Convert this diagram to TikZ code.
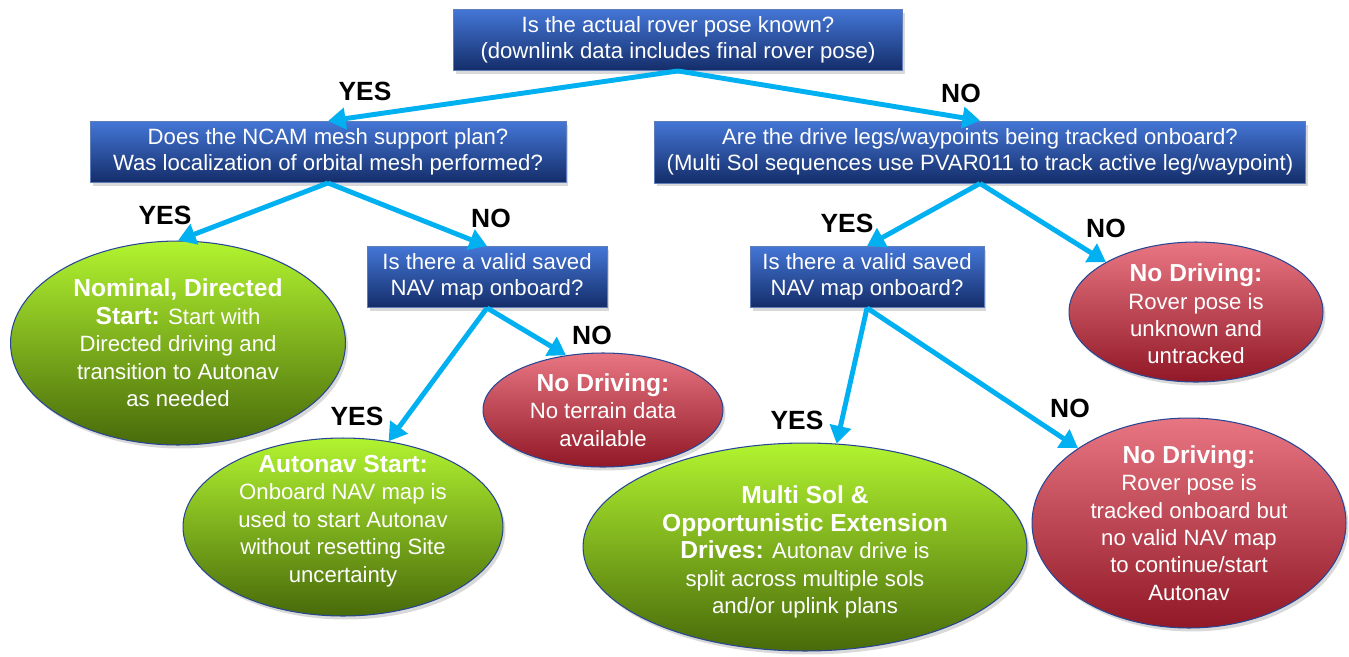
\documentclass[tikz,border=0pt]{standalone}
\usepackage{fontspec}
\setmainfont{Liberation Sans}
\usetikzlibrary{shapes.geometric,arrows.meta,shadows}

\definecolor{boxtop}{RGB}{68,118,214}
\definecolor{boxbot}{RGB}{20,45,105}
\definecolor{boxedge}{RGB}{95,125,185}
\definecolor{grntop}{RGB}{178,244,48}
\definecolor{grnmid}{RGB}{128,188,26}
\definecolor{grnbot}{RGB}{72,106,10}
\definecolor{redtop}{RGB}{232,118,130}
\definecolor{redmid}{RGB}{214,36,56}
\definecolor{redbot}{RGB}{145,24,38}
\definecolor{rimblue}{RGB}{40,70,150}
\definecolor{arrowblue}{RGB}{0,176,240}

\newcommand{\hdtxt}[1]{{\fontsize{14}{15.6}\selectfont\bfseries #1}}

\tikzset{
  question/.style={rectangle, draw=boxedge, line width=0.5pt,
    top color=boxtop, bottom color=boxbot, text=white, align=center,
    font=\fontsize{12.6}{15}\selectfont, minimum height=1.22cm, inner sep=0pt,
    drop shadow={opacity=0.3, shadow xshift=0.5mm, shadow yshift=-0.7mm}},
  outcome/.style={ellipse, draw=rimblue, line width=0.6pt, inner sep=0pt,
    drop shadow={opacity=0.3, shadow xshift=0.5mm, shadow yshift=-0.7mm}},
  goend/.style={top color=grntop, middle color=grnmid, bottom color=grnbot},
  haltend/.style={top color=redtop, middle color=redmid, bottom color=redbot},
  outtext/.style={text=white, align=center, inner sep=0pt,
    font=\fontsize{12.6}{15.6}\selectfont},
  ans/.style={font=\fontsize{15}{15}\selectfont\bfseries},
  link/.style={draw=arrowblue, line width=2.8pt,
    -{Triangle[length=10pt,width=12pt]}}
}

\begin{document}
\begin{tikzpicture}[x=0.02cm, y=-0.02cm]
\useasboundingbox (0,0) rectangle (1349,656);

% questions
\node[question, minimum width=8.98cm] (q0) at (678,40)
  {Is the actual rover pose known?\\(downlink data includes final rover pose)};
\node[question, minimum width=9.52cm] (q1) at (328,152)
  {Does the NCAM mesh support plan?\\Was localization of orbital mesh performed?};
\node[question, minimum width=13.02cm, minimum height=1.24cm] (q2) at (980,152)
  {Are the drive legs/waypoints being tracked onboard?\\(Multi Sol sequences use PVAR011 to track active leg/waypoint)};
\node[question, minimum width=4.8cm] (q3) at (487,277)
  {Is there a valid saved\\NAV map onboard?};
\node[question, minimum width=4.68cm] (q4) at (867,277)
  {Is there a valid saved\\NAV map onboard?};

% outcomes
\node[outcome, goend, minimum width=6.7cm, minimum height=4.08cm] (e1) at (178,343) {};
\node[outcome, goend, minimum width=6.4cm, minimum height=3.56cm] (e2) at (343,527) {};
\node[outcome, haltend, minimum width=4.8cm, minimum height=2.28cm] (e3) at (603,410) {};
\node[outcome, haltend, minimum width=5.08cm, minimum height=2.8cm] (e4) at (1196,312) {};
\node[outcome, goend, minimum width=8.88cm, minimum height=4.16cm] (e5) at (805,547) {};
\node[outcome, haltend, minimum width=6.28cm, minimum height=4.2cm] (e6) at (1189,523) {};

\node[outtext] (t1) at (e1) {\hdtxt{Nominal, Directed}\\\hdtxt{Start:} Start with\\Directed driving and\\transition to Autonav\\as needed};
\node[outtext] (t2) at (343,521) {\hdtxt{Autonav Start:}\\Onboard NAV map is\\used to start Autonav\\without resetting Site\\uncertainty};
\node[outtext] (t3) at (e3) {\hdtxt{No Driving:}\\No terrain data\\available};
\node[outtext] (t4) at (1196,314) {\hdtxt{No Driving:}\\Rover pose is\\unknown and\\untracked};
\node[outtext] (t5) at (805,552) {\hdtxt{Multi Sol \&}\\\hdtxt{Opportunistic Extension}\\\hdtxt{Drives:} Autonav drive is\\split across multiple sols\\and/or uplink plans};
\node[outtext] (t6) at (e6) {\hdtxt{No Driving:}\\Rover pose is\\tracked onboard but\\no valid NAV map\\to continue/start\\Autonav};

% yes/no answers
\foreach \t/\x/\y [count=\i] in {YES/365/91, NO/961/93, YES/165/215, NO/491/218,
    YES/847/223, NO/1106/228, NO/592/335, YES/357/416, YES/797/420, NO/1070/408}
  \node[ans] (a\i) at (\x,\y) {\t};

% branches
\foreach \a/\b in {q0.south/q1.north, q0.south/q2.north, q1.south/e1.north,
    q1.south/q3.north, q2.south/q4.north, q2.south/e4.151, q3.south/e2.62,
    q3.south/e3.124, q4.south/e5.73, q4.south/e6.146}
  \draw[link] (\a) -- (\b);
\end{tikzpicture}
\end{document}
